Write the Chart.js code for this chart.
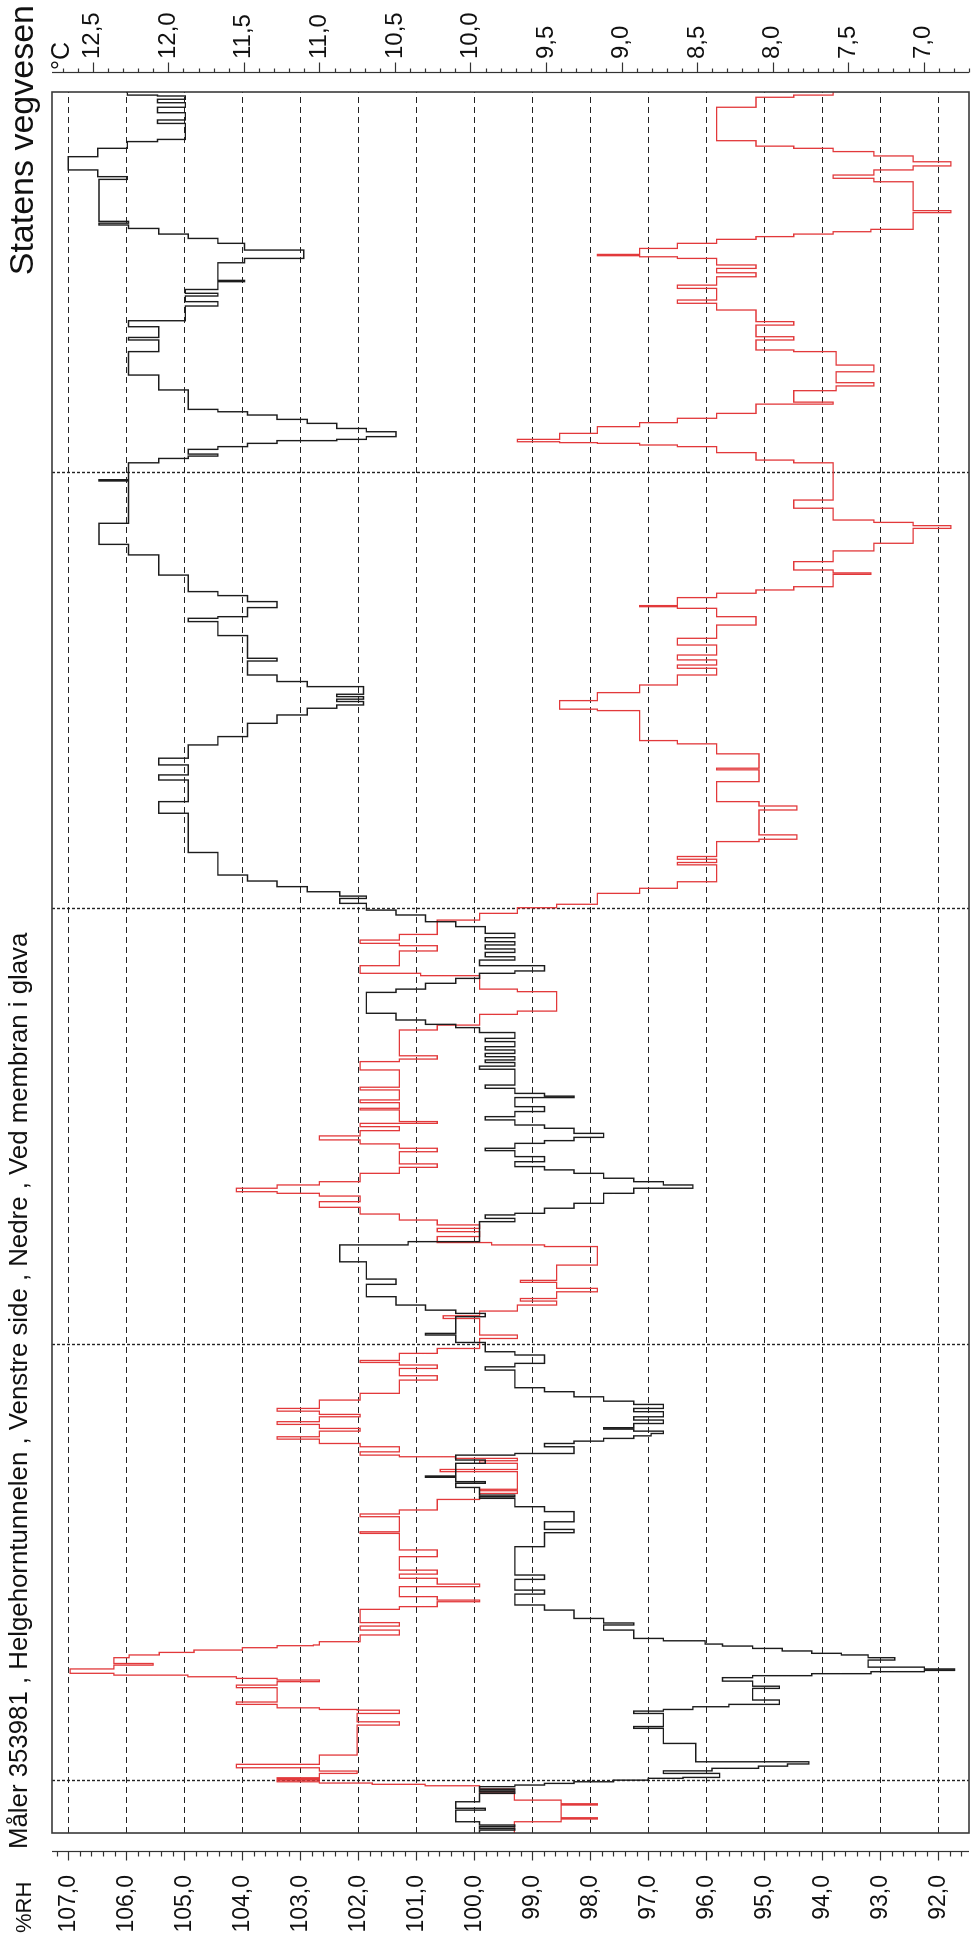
<!DOCTYPE html>
<html>
<head>
<meta charset="utf-8">
<title>Helgehorntunnelen</title>
<script src="https://cdn.jsdelivr.net/npm/chart.js@4.4.1/dist/chart.umd.min.js"></script>
<style>
  html, body { margin: 0; padding: 0; background: #fff; overflow: hidden; }
  /* the logger chart is landscape; the page shows it turned a quarter left */
  #page {
    position: absolute; left: 0; top: 0;
    width: 1936px; height: 971px;
    transform-origin: 0 0;
    transform: translate(0, 1936px) rotate(-90deg);
    font-family: "Liberation Sans", Arial, sans-serif;
    color: #111;
  }
  #chart { position: absolute; left: 0; top: 0; }
  .lbl { position: absolute; white-space: nowrap; line-height: 1; }
</style>
</head>
<body>
<div id="page">
  <canvas id="chart" width="1936" height="971"></canvas>
  <div class="lbl" style="left:87px; top:6px; font-size:25.8px;">Måler 353981 , Helgehorntunnelen , Venstre side , Nedre , Ved membran i glava</div>
  <div class="lbl" style="right:5px; top:4px; font-size:34px;">Statens vegvesen</div>
  <div class="lbl" style="left:3px; top:13px; font-size:22px;">%RH</div>
  <div class="lbl" style="left:1866px; top:48px; font-size:25px;">°C</div>
</div>
<script>
// ------------------------------
// Data (hours from the first day line)
// ------------------------------
const timeStart = -2.86;
const timeEnd = 92.97;
const dayLines = [0, 24, 48, 72];

const rhTicks = [92, 93, 94, 95, 96, 97, 98, 99, 100, 101, 102, 103, 104, 105, 106, 107];
const tempTicks = [7.0, 7.5, 8.0, 8.5, 9.0, 9.5, 10.0, 10.5, 11.0, 11.5, 12.0, 12.5];
const rhRange = [91.47, 107.28];
const tempRange = [6.70, 12.77];

// black trace, %RH
const rhHours = [
  -2.86, -2.70, -2.61, -2.51, -2.42, -2.24, -1.60, -1.50, -1.14, -0.68, -0.59, -0.50,
  -0.44, -0.31, -0.22, -0.13, -0.04, 0.05, 0.15, 0.20, 0.42, 0.56, 0.70, 0.82,
  0.94, 1.06, 2.07, 2.90, 3.00, 3.72, 3.85, 3.94, 4.09, 4.22, 4.46, 5.10,
  5.22, 5.50, 5.69, 5.80, 5.91, 6.02, 6.09, 6.17, 6.27, 6.66, 6.79, 6.94,
  7.03, 7.16, 7.30, 7.43, 7.54, 7.72, 7.85, 8.31, 8.59, 8.70, 8.95, 9.41,
  9.69, 10.29, 10.51, 11.10, 11.34, 12.90, 13.67, 13.85, 14.27, 14.83, 15.10, 15.56,
  15.65, 15.74, 16.16, 16.39, 16.48, 16.72, 16.79, 17.49, 17.67, 17.94, 18.03, 18.40,
  18.58, 18.71, 18.86, 19.00, 19.13, 19.26, 19.37, 19.45, 19.68, 19.87, 20.05, 20.33,
  20.51, 20.73, 20.91, 21.15, 21.43, 21.65, 22.62, 22.80, 22.99, 23.45, 23.63, 24.14,
  24.55, 24.64, 25.56, 25.74, 25.92, 26.20, 26.66, 27.34, 27.63, 28.58, 29.51, 29.69,
  30.79, 30.97, 31.16, 31.25, 31.53, 31.80, 32.35, 32.63, 32.81, 32.99, 33.18, 33.45,
  33.64, 33.82, 34.09, 34.37, 34.70, 34.83, 35.10, 35.25, 35.43, 35.65, 35.93, 36.11,
  36.39, 36.57, 36.85, 37.12, 37.62, 37.70, 37.85, 38.13, 38.31, 39.18, 39.35, 39.55,
  39.69, 39.87, 40.05, 40.24, 40.42, 40.70, 40.88, 41.20, 41.47, 41.65, 41.89, 42.26,
  43.41, 43.59, 43.91, 44.18, 44.46, 44.59, 44.88, 45.19, 45.37, 45.61, 45.80, 46.02,
  46.20, 46.42, 46.66, 47.03, 47.30, 47.67, 47.94, 48.31, 48.58, 48.71, 48.95, 49.23,
  49.54, 49.87, 51.11, 53.27, 53.91, 55.10, 55.38, 55.93, 56.30, 57.03, 57.49, 58.22,
  58.68, 59.05, 59.23, 59.42, 59.55, 59.69, 59.82, 60.24, 60.52, 60.88, 61.65, 61.80,
  63.05, 63.82, 64.00, 64.09, 64.59, 64.92, 65.25, 65.47, 66.38, 67.49, 68.07, 69.23,
  71.56, 71.63, 72.56, 72.80, 72.93, 73.04, 73.30, 73.45, 73.63, 73.78, 73.85, 74.00,
  74.27, 74.45, 74.73, 74.95, 75.19, 75.37, 75.50, 76.57, 77.39, 78.68, 79.32, 79.46,
  80.05, 80.38, 81.19, 81.43, 81.74, 81.89, 82.10, 82.53, 82.60, 83.57, 83.81, 84.27,
  84.64, 84.91, 85.15, 85.46, 85.65, 85.75, 85.85, 88.16, 88.31, 88.68, 89.41, 89.87,
  90.24, 90.36, 91.24, 91.43, 91.83, 92.13, 92.38, 92.57, 92.75, 92.80, 92.97
];
const rhValues = [
  99.91, 99.30, 99.91, 99.30, 99.91, 100.32, 99.81, 100.32, 99.91, 99.30, 99.91, 99.30,
  99.91, 99.30, 98.79, 98.28, 97.60, 97.00, 96.40, 95.77, 96.74, 95.90, 95.10, 94.60,
  94.23, 96.18, 96.74, 97.25, 96.74, 97.25, 96.74, 96.23, 95.61, 94.74, 95.20, 94.74,
  95.20, 95.72, 95.20, 94.18, 93.16, 92.24, 91.72, 92.24, 93.21, 92.75, 93.21, 93.67,
  94.18, 94.69, 95.20, 95.72, 96.02, 96.74, 97.25, 97.77, 97.25, 97.77, 98.28, 98.79,
  99.30, 98.79, 99.30, 98.79, 99.30, 98.79, 98.28, 98.79, 98.28, 98.79, 99.30, 99.91,
  99.30, 99.91, 100.32, 99.81, 100.32, 100.84, 100.32, 99.81, 100.32, 99.30, 98.28, 98.79,
  98.28, 97.77, 97.25, 96.95, 96.74, 97.25, 97.77, 97.25, 96.74, 97.25, 96.74, 97.25,
  96.74, 97.25, 97.77, 98.28, 98.79, 99.30, 99.81, 99.30, 98.79, 99.30, 99.81, 100.32,
  100.84, 100.32, 99.81, 100.32, 100.84, 101.35, 101.86, 101.35, 101.86, 102.32, 101.14, 99.91,
  99.30, 99.81, 99.30, 98.79, 98.28, 97.77, 97.25, 96.23, 96.74, 97.25, 97.77, 98.28,
  98.79, 99.30, 98.79, 99.30, 99.81, 99.30, 98.79, 98.28, 97.77, 98.28, 98.79, 99.30,
  99.81, 99.30, 98.79, 99.30, 98.28, 98.79, 99.30, 99.81, 99.30, 99.91, 99.30, 99.81,
  99.30, 99.81, 99.30, 99.81, 99.30, 99.81, 99.30, 99.91, 100.32, 100.84, 101.35, 101.86,
  101.35, 100.84, 100.32, 99.91, 99.30, 98.79, 99.91, 99.30, 99.81, 99.30, 99.81, 99.30,
  99.81, 99.30, 99.81, 100.32, 100.84, 101.35, 101.86, 102.32, 101.86, 102.32, 102.88, 103.40,
  103.91, 104.42, 104.93, 105.44, 104.93, 105.44, 104.93, 105.44, 104.93, 104.42, 103.91, 103.40,
  102.88, 102.37, 101.91, 102.37, 101.91, 102.37, 101.91, 102.88, 103.40, 103.91, 103.40, 103.91,
  104.42, 104.93, 104.42, 103.91, 103.40, 103.91, 104.42, 104.93, 105.44, 105.96, 106.47, 105.96,
  106.47, 105.96, 105.44, 104.93, 104.42, 104.93, 104.42, 103.91, 103.40, 102.37, 101.86, 101.35,
  101.86, 102.37, 102.88, 103.40, 103.91, 104.42, 104.93, 105.44, 105.96, 105.44, 105.96, 105.44,
  105.96, 104.98, 104.42, 104.98, 104.42, 104.98, 104.42, 103.96, 104.42, 103.96, 102.94, 103.96,
  104.42, 104.93, 105.44, 105.96, 106.47, 105.96, 106.47, 105.98, 106.49, 107.00, 106.49, 105.98,
  105.46, 104.98, 105.46, 104.98, 105.46, 104.98, 105.46, 104.98, 105.46, 105.98, 105.98
];

// red trace, °C
const tempHours = [
  -2.86, -2.24, -2.09, -2.02, -1.32, -1.25, -1.05, -0.68, -0.59, -0.44, -0.26, -0.18,
  -0.11, -0.04, 0.05, 0.11, 0.18, 0.42, 0.55, 0.73, 0.92, 1.43, 3.08, 3.26,
  3.72, 3.90, 3.94, 4.03, 4.22, 4.35, 5.14, 5.28, 5.47, 5.56, 5.65, 5.74,
  5.83, 5.93, 6.17, 6.38, 6.47, 6.79, 6.94, 7.08, 7.21, 7.34, 7.45, 7.49,
  7.67, 8.04, 8.31, 8.53, 8.72, 9.45, 9.60, 9.87, 9.96, 10.15, 10.70, 10.84,
  11.16, 11.39, 11.61, 12.35, 12.72, 13.63, 13.72, 14.55, 14.70, 14.92, 15.50, 15.83,
  15.98, 16.06, 17.03, 17.15, 17.49, 17.63, 17.76, 17.85, 17.94, 18.12, 18.40, 18.58,
  18.82, 18.95, 19.26, 19.41, 19.63, 19.78, 20.05, 20.18, 20.36, 20.51, 20.97, 21.34,
  22.07, 22.31, 22.71, 22.90, 23.04, 23.15, 23.54, 23.81, 24.36, 24.55, 25.46, 25.61,
  25.87, 26.20, 26.42, 26.56, 26.93, 27.12, 27.45, 27.56, 28.40, 29.42, 29.51, 29.64,
  29.97, 30.24, 30.42, 30.61, 30.88, 31.21, 31.58, 31.89, 32.20, 32.35, 32.44, 32.63,
  32.81, 32.99, 33.45, 33.78, 33.97, 34.64, 34.83, 35.07, 35.29, 35.51, 35.80, 36.02,
  36.20, 36.30, 36.94, 37.03, 37.34, 37.49, 38.04, 38.19, 39.14, 39.60, 39.74, 39.92,
  41.34, 41.61, 42.20, 42.38, 43.45, 43.59, 44.33, 44.46, 44.88, 45.69, 45.98, 46.11,
  46.29, 46.60, 47.39, 47.76, 48.07, 48.26, 48.86, 49.14, 49.50, 50.43, 50.56, 50.74,
  50.89, 51.71, 51.84, 52.08, 53.45, 53.67, 53.91, 55.01, 55.66, 55.75, 56.54, 57.09,
  57.27, 58.92, 59.00, 59.47, 59.91, 60.33, 60.88, 61.25, 61.43, 61.71, 61.98, 62.53,
  62.90, 63.63, 64.09, 64.55, 64.64, 64.70, 65.14, 65.38, 65.56, 65.74, 66.42, 66.50,
  66.66, 67.12, 67.71, 68.13, 68.95, 69.10, 69.28, 69.41, 70.06, 70.51, 72.56, 72.71,
  73.12, 73.45, 73.54, 73.63, 73.67, 73.72, 73.85, 74.18, 74.55, 74.77, 75.01, 75.28,
  75.79, 75.90, 76.53, 76.79, 76.97, 77.57, 77.94, 78.68, 78.77, 79.32, 79.50, 80.14,
  80.33, 80.97, 81.34, 81.52, 82.16, 82.34, 82.80, 83.02, 83.26, 83.45, 83.81, 83.90,
  83.96, 84.03, 84.36, 84.64, 84.86, 85.01, 85.15, 85.28, 85.41, 86.33, 86.44, 88.03,
  88.22, 88.40, 88.68, 88.90, 89.13, 89.45, 89.69, 89.87, 89.99, 90.29, 92.13, 92.68,
  92.80, 92.97
];
const tempValues = [
  9.71, 9.40, 9.16, 9.40, 9.16, 9.40, 9.71, 9.94, 9.71, 9.94, 10.30, 10.65,
  11.00, 11.28, 11.00, 11.28, 11.00, 10.75, 11.00, 11.55, 11.00, 10.75, 10.47, 10.75,
  10.47, 10.75, 11.00, 11.28, 11.55, 11.28, 11.55, 11.28, 11.00, 11.28, 11.55, 11.87,
  12.36, 12.65, 12.36, 12.10, 12.36, 12.26, 12.06, 11.83, 11.51, 11.28, 11.04, 11.00,
  10.73, 10.47, 10.73, 10.47, 10.73, 10.47, 10.22, 9.94, 10.22, 10.47, 9.94, 10.22,
  10.47, 10.22, 10.47, 10.22, 10.47, 10.73, 10.47, 10.73, 10.47, 10.22, 9.94, 9.69,
  9.94, 9.69, 10.20, 9.69, 9.94, 9.69, 10.10, 10.47, 10.73, 10.47, 10.73, 11.00,
  11.28, 11.00, 10.73, 11.00, 11.28, 11.00, 10.73, 11.00, 11.28, 11.00, 10.73, 10.47,
  10.22, 10.47, 10.22, 10.47, 10.73, 10.47, 10.22, 9.94, 9.69, 9.94, 10.18, 9.94,
  9.69, 9.43, 9.67, 9.43, 9.16, 9.43, 9.67, 9.43, 9.16, 9.51, 9.86, 10.22,
  9.94, 10.22, 9.94, 10.22, 10.47, 10.73, 11.00, 10.73, 11.00, 11.28, 11.55, 11.28,
  11.00, 10.73, 10.47, 10.22, 10.47, 10.22, 10.47, 10.73, 11.00, 10.73, 10.47, 10.73,
  10.22, 10.47, 10.73, 10.47, 10.73, 10.47, 10.73, 10.47, 10.73, 10.47, 10.22, 10.47,
  10.22, 9.94, 9.69, 9.43, 9.69, 9.94, 10.33, 10.73, 10.47, 10.22, 10.47, 10.73,
  10.47, 10.22, 9.94, 9.69, 9.43, 9.16, 8.88, 8.63, 8.37, 8.63, 8.37, 8.63,
  8.37, 8.09, 7.84, 8.09, 7.84, 8.09, 8.37, 8.09, 8.37, 8.09, 8.37, 8.63,
  8.88, 9.16, 9.41, 9.16, 8.88, 8.63, 8.37, 8.63, 8.37, 8.63, 8.37, 8.63,
  8.37, 8.11, 8.37, 8.63, 8.88, 8.63, 8.37, 8.11, 7.86, 7.60, 7.35, 7.60,
  7.86, 7.60, 7.33, 7.07, 6.82, 7.07, 7.33, 7.60, 7.86, 7.60, 7.86, 8.11,
  8.37, 8.63, 8.88, 9.16, 9.41, 9.69, 9.41, 9.16, 8.88, 8.63, 8.37, 8.11,
  7.60, 7.86, 7.58, 7.33, 7.58, 7.33, 7.58, 7.86, 8.11, 7.86, 8.11, 7.86,
  8.11, 8.37, 8.63, 8.37, 8.63, 8.37, 8.11, 8.37, 8.11, 8.37, 8.63, 8.88,
  9.16, 8.88, 8.63, 8.37, 8.11, 7.86, 7.60, 7.35, 7.07, 6.82, 7.07, 7.33,
  7.60, 7.33, 7.07, 6.82, 7.07, 7.33, 7.60, 7.86, 8.11, 8.37, 8.11, 7.86,
  7.60, 7.60
];

// ------------------------------
// Helpers
// ------------------------------
const FONT = '"Liberation Sans", Arial, sans-serif';
const axisGap = 19;
const commaLabel = v => Number(v).toFixed(1).replace('.', ',');
const toPoints = (xs, ys) => xs.map((x, i) => ({ x: x, y: ys[i] }));

function strokeLine(ctx, x1, y1, x2, y2) {
    ctx.beginPath();
    ctx.moveTo(x1, y1);
    ctx.lineTo(x2, y2);
    ctx.stroke();
}

// fixed axis width; drop the label padding Chart.js would reserve above/below
function fixAxis(width) {
    return s => {
        s.width = width;
        s.paddingTop = 0;
        s.paddingBottom = 0;
    };
}

// grid inside the frame, frame on top, axes set off from the frame
const framePlugin = {
    id: 'framePlugin',
    beforeDatasetsDraw(chart) {
        const { ctx, chartArea: a, scales } = chart;
        ctx.save();
        ctx.strokeStyle = '#222';
        ctx.lineWidth = 1;
        ctx.setLineDash([6, 4]);
        rhTicks.forEach(v => {
            const y = Math.round(scales.yRH.getPixelForValue(v)) + 0.5;
            strokeLine(ctx, a.left, y, a.right, y);
        });
        ctx.setLineDash([3, 2]);
        ctx.lineWidth = 1.4;
        dayLines.forEach(h => {
            const x = Math.round(scales.x.getPixelForValue(h)) + 0.5;
            strokeLine(ctx, x, a.top, x, a.bottom);
        });
        ctx.restore();
    },
    afterDatasetsDraw(chart) {
        const { ctx, chartArea: a } = chart;
        ctx.save();
        ctx.strokeStyle = '#3a3a3a';
        ctx.lineWidth = 1.6;
        ctx.strokeRect(a.left, a.top, a.right - a.left, a.bottom - a.top);
        ctx.restore();
    },
    afterDraw(chart) {
        const { ctx, chartArea: a, scales } = chart;
        ctx.save();
        ctx.strokeStyle = '#333';
        ctx.lineWidth = 1.2;

        // %RH axis, minor tick every 0.2
        const xl = a.left - axisGap + 0.5;
        strokeLine(ctx, xl, a.top, xl, a.bottom);
        for (let i = Math.ceil(rhRange[0] * 5); i <= Math.floor(rhRange[1] * 5); i++) {
            const y = Math.round(scales.yRH.getPixelForValue(i / 5)) + 0.5;
            const len = i % 5 === 0 ? 9 : 5;
            strokeLine(ctx, xl - len, y, xl, y);
        }

        // °C axis, minor tick every 0.1
        const xr = a.right + axisGap + 0.5;
        strokeLine(ctx, xr, a.top, xr, a.bottom);
        for (let i = Math.ceil(tempRange[0] * 10); i <= Math.floor(tempRange[1] * 10); i++) {
            const y = Math.round(scales.yT.getPixelForValue(i / 10)) + 0.5;
            const len = i % 5 === 0 ? 10 : 4;
            strokeLine(ctx, xr, y, xr + len, y);
        }
        ctx.restore();
    }
};

// ------------------------------
// Chart
// ------------------------------
const ctx = document.getElementById('chart').getContext('2d');
const chart = new Chart(ctx, {
    type: 'line',
    data: {
        datasets: [
            {
                label: '%RH',
                data: toPoints(rhHours, rhValues),
                yAxisID: 'yRH',
                borderColor: '#1c1c1c',
                borderWidth: 1.4,
                stepped: true,
                pointRadius: 0,
                fill: false
            },
            {
                label: '°C',
                data: toPoints(tempHours, tempValues),
                yAxisID: 'yT',
                borderColor: '#e2393b',
                borderWidth: 1.3,
                stepped: true,
                pointRadius: 0,
                fill: false
            }
        ]
    },
    options: {
        responsive: false,
        animation: false,
        devicePixelRatio: 1,
        layout: { padding: { top: 52, bottom: 2, left: 0, right: 0 } },
        plugins: { legend: { display: false }, tooltip: { enabled: false } },
        scales: {
            x: { type: 'linear', min: timeStart, max: timeEnd, display: false },
            yRH: {
                type: 'linear',
                position: 'left',
                min: rhRange[0],
                max: rhRange[1],
                afterFit: fixAxis(103),
                afterBuildTicks: s => { s.ticks = rhTicks.map(v => ({ value: v })); },
                grid: { display: false, drawTicks: false },
                border: { display: false },
                ticks: {
                    autoSkip: false,
                    padding: 42,
                    color: '#111',
                    font: { family: FONT, size: 23 },
                    callback: v => commaLabel(v)
                }
            },
            yT: {
                type: 'linear',
                position: 'right',
                min: tempRange[0],
                max: tempRange[1],
                afterFit: fixAxis(92),
                afterBuildTicks: s => { s.ticks = tempTicks.map(v => ({ value: v })); },
                grid: { display: false, drawTicks: false },
                border: { display: false },
                ticks: {
                    autoSkip: false,
                    padding: 33,
                    color: '#111',
                    font: { family: FONT, size: 24 },
                    callback: v => commaLabel(v)
                }
            }
        }
    },
    plugins: [framePlugin]
});
</script>
</body>
</html>
